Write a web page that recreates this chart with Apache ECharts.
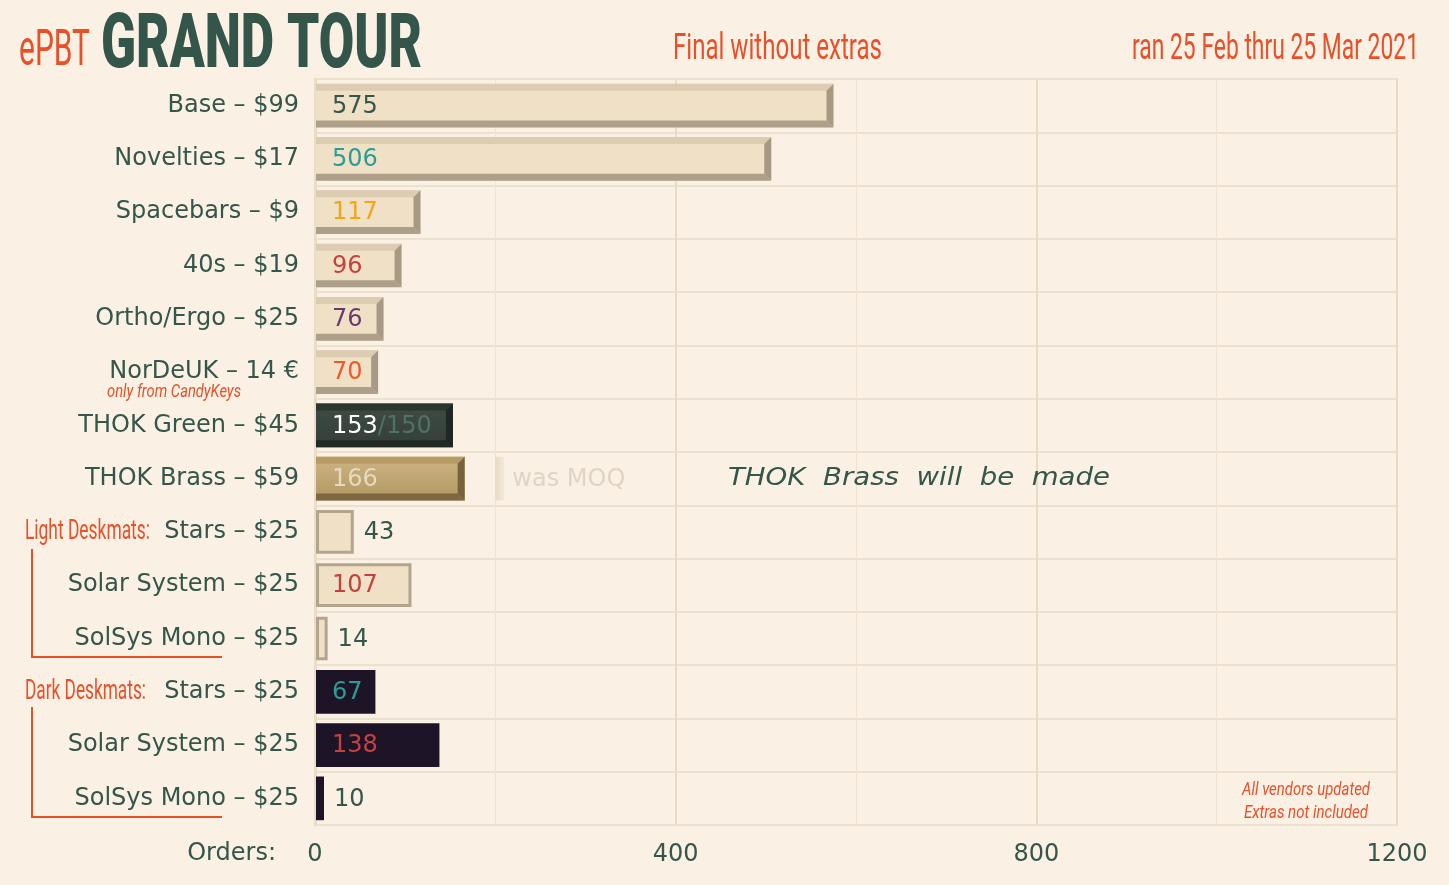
<!DOCTYPE html>
<html><head><meta charset="utf-8">
<script src="https://cdn.jsdelivr.net/npm/echarts@6/dist/echarts.min.js"></script>
<style>html,body{margin:0;padding:0;background:#faf1e4;}#c{width:1449px;height:885px;}</style>
</head><body><div id="c"></div>
<script>
// ---- data ----
const categories = ['Base – $99','Novelties – $17','Spacebars – $9','40s – $19','Ortho/Ergo – $25','NorDeUK – 14 €','THOK Green – $45','THOK Brass – $59','Stars – $25','Solar System – $25','SolSys Mono – $25','Stars – $25','Solar System – $25','SolSys Mono – $25'];
const orders = [575, 506, 117, 96, 76, 70, 153, 166, 43, 107, 14, 67, 138, 10];
const thokGreenMoq = 150;
const thokBrassOldMoq = 200;
const xTickLabels = [0, 400, 800, 1200];

// ---- styles ----
const barKinds = ['bevel','bevel','bevel','bevel','bevel','bevel','green','brass','light','light','light','dark','dark','dark'];
const labelColors = ['#35564a','#2a9d98','#f2a516','#c4413f','#6b3a6b','#ee5a2c','#ffffff','#e6d9bd','#35564a','#c4413f','#35564a','#2a9d98','#c4413f','#35564a'];
const TXT = '#35564a', ORANGE = '#e8502a', FONT = 'DejaVu Sans';

const mctx = document.createElement('canvas').getContext('2d');
function fit(text, size, family, weight, style, width) {
  mctx.font = (style||'normal') + ' ' + (weight||'normal') + ' ' + size + 'px "' + family + '"';
  return width / mctx.measureText(text).width;
}
function condText(text, x, y, size, width, opts) {
  opts = opts || {};
  const fam = opts.family || 'Roboto';
  const sx = fit(text, size, fam, opts.weight, opts.fontStyle, width);
  return { type: 'text', x: x, y: y, scaleX: sx, z: 50,
    style: { text: text, fill: opts.color || ORANGE, fontSize: size, fontFamily: fam,
      fontWeight: opts.weight || 'normal', fontStyle: opts.fontStyle || 'normal',
      align: opts.align || 'left', verticalAlign: 'middle' } };
}

function poly(points, fill) { return { type: 'polygon', shape: { points: points }, style: { fill: fill } }; }

function renderItem(params, api) {
  const i = params.dataIndex;
  const v = api.value(0), idx = api.value(1);
  const p0 = api.coord([0, idx]);
  const p1 = api.coord([v, idx]);
  const band = api.size([0, 1])[1];
  const h = band * 0.82;
  const x0 = p0[0] + 1, x1 = p1[0];
  const y0 = p0[1] - h / 2, y1 = p0[1] + h / 2;
  const kind = barKinds[i];
  const ch = [];
  const b = 7;
  const pal = {
    bevel: { main: '#f0e1c6', top: '#dbccb2', bottom: '#ad9f89', right: '#a79984' },
    green: { main: { type: 'linear', x: 0, y: 0, x2: 0, y2: 1, colorStops: [{ offset: 0, color: '#3f4c44' }, { offset: 1, color: '#333e37' }] }, top: '#2c3630', bottom: '#222a25', right: '#1f2722' },
    brass: { main: { type: 'linear', x: 0, y: 0, x2: 0, y2: 1, colorStops: [{ offset: 0, color: '#cdb583' }, { offset: 1, color: '#b09662' }] }, top: '#b89c66', bottom: '#7e6842', right: '#78623d' }
  };
  if (kind === 'bevel' || kind === 'green' || kind === 'brass') {
    const p = pal[kind];
    ch.push({ type: 'rect', shape: { x: x0, y: y0, width: x1 - x0, height: y1 - y0 }, style: { fill: p.main } });
    ch.push(poly([[x0, y0], [x1, y0], [x1 - b, y0 + b], [x0, y0 + b]], p.top));
    ch.push(poly([[x0, y1 - b], [x1 - b, y1 - b], [x1, y1], [x0, y1]], p.bottom));
    ch.push(poly([[x1 - b, y0 + b], [x1, y0], [x1, y1], [x1 - b, y1 - b]], p.right));
  } else if (kind === 'light') {
    ch.push({ type: 'rect', shape: { x: x0 + 1.5, y: y0 + 1.5, width: x1 - x0 - 3, height: y1 - y0 - 3 }, style: { fill: '#f0e1c6', stroke: '#b3a58d', lineWidth: 3 } });
  } else {
    ch.push({ type: 'rect', shape: { x: x0, y: y0, width: x1 - x0, height: y1 - y0 }, style: { fill: '#1d1428' } });
  }
  // MOQ marker for THOK Brass
  if (kind === 'brass') {
    const m = api.coord([thokBrassOldMoq, idx]);
    ch.push({ type: 'rect', shape: { x: m[0], y: y0, width: 9, height: y1 - y0 }, style: { fill: { type: 'linear', x: 0, y: 0, x2: 1, y2: 0, colorStops: [{ offset: 0, color: '#e8dac4' }, { offset: 1, color: '#f4eadb' }] } } });
    ch.push({ type: 'text', x: m[0] + 17, y: p0[1] + 1, style: { text: 'was MOQ', fill: '#e0d5c4', fontSize: 24, fontFamily: FONT, align: 'left', verticalAlign: 'middle' } });
  }
  const inside = (x1 - x0) > 50;
  const lx = inside ? x0 + 16 : x1 + 10;
  const ts = { fill: labelColors[i], fontSize: 24, fontFamily: FONT, align: 'left', verticalAlign: 'middle' };
  if (kind === 'green') {
    ts.text = '{a|' + v + '}{b|/' + thokGreenMoq + '}';
    ts.rich = { a: { fill: '#ffffff', fontSize: 24, fontFamily: FONT }, b: { fill: '#4f7264', fontSize: 24, fontFamily: FONT } };
  } else {
    ts.text = String(v);
  }
  ch.push({ type: 'text', x: lx, y: p0[1] + 1, style: ts });
  return { type: 'group', children: ch };
}

const chart = echarts.init(document.getElementById('c'));
const gridL = 315, gridR = 52, gridT = 79, gridB = 60;

const graphics = [
  condText('ePBT', 19, 52, 50, 71, {}),
  condText('GRAND TOUR', 101, 48, 76, 321, { color: '#33554a', weight: 900 }),
  condText('Final without extras', 673, 50, 36, 209, {}),
  condText('ran 25 Feb thru 25 Mar 2021', 1419, 50, 36, 287, { align: 'right' }),
  condText('only from CandyKeys', 107, 392, 18, 134, { fontStyle: 'italic' }),
  condText('Light Deskmats:', 25, 532, 28, 125, {}),
  condText('Dark Deskmats:', 25, 692, 28, 121, {}),
  condText('All vendors updated', 1242, 790, 18, 128, { fontStyle: 'italic' }),
  condText('Extras not included', 1244, 813, 18, 124, { fontStyle: 'italic' }),
  condText('THOK  Brass  will  be  made', 728, 479, 24, 382, { color: TXT, family: 'DejaVu Sans', fontStyle: 'italic' }),
  { type: 'text', x: 276, y: 854, style: { text: 'Orders:', fill: TXT, fontSize: 24, fontFamily: FONT, align: 'right', verticalAlign: 'middle' } },
  { type: 'polyline', shape: { points: [[32, 549], [32, 657], [222, 657]] }, style: { stroke: ORANGE, lineWidth: 2, fill: null } },
  { type: 'polyline', shape: { points: [[32, 707], [32, 817], [222, 817]] }, style: { stroke: ORANGE, lineWidth: 2, fill: null } }
];

chart.setOption({
  backgroundColor: '#faf1e4',
  animation: false,
  grid: { left: gridL, right: gridR, top: gridT, bottom: gridB, show: true, borderColor: '#e9dcc7', borderWidth: 2, backgroundColor: 'transparent' },
  xAxis: [{
    type: 'value', min: 0, max: 1200, interval: 200, position: 'bottom',
    axisLine: { show: false }, axisTick: { show: false },
    axisLabel: { color: TXT, fontSize: 24, fontFamily: FONT, margin: 18, formatter: function (v) { return xTickLabels.indexOf(v) >= 0 ? String(v) : ''; } },
    splitLine: { show: true, lineStyle: { color: '#eee3d2', width: 1 } }
  }, {
    type: 'value', min: 0, max: 1200, interval: 400, position: 'bottom',
    axisLine: { show: false }, axisTick: { show: false }, axisLabel: { show: false },
    splitLine: { show: true, lineStyle: { color: '#e9dcc7', width: 2 } }
  }],
  yAxis: {
    type: 'category', data: categories, inverse: true,
    axisLine: { show: true, lineStyle: { color: '#eadcc8', width: 3 } },
    axisTick: { show: false },
    axisLabel: { color: TXT, fontSize: 24, fontFamily: FONT, margin: 16, interval: 0 },
    splitLine: { show: true, interval: 0, lineStyle: { color: '#ece1cf', width: 2 } }
  },
  series: [{
    type: 'custom', renderItem: renderItem, xAxisIndex: 0,
    encode: { x: 0, y: 1 },
    data: orders.map(function (v, i) { return [v, i]; }),
    z: 10
  }],
  graphic: graphics
});
</script></body></html>
